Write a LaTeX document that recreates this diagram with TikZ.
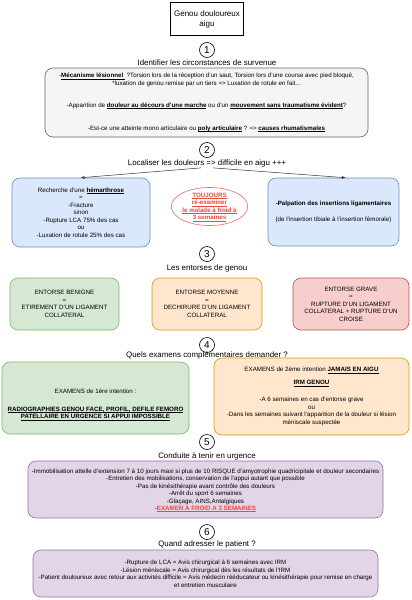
\documentclass[tikz,border=0pt]{standalone}
\usepackage{fontspec}
\setmainfont{Liberation Sans}
\usetikzlibrary{arrows.meta,shapes.geometric}
\definecolor{greyfill}{HTML}{F5F5F5}\definecolor{greydraw}{HTML}{666666}
\definecolor{bluefill}{HTML}{DAE8FC}\definecolor{bluedraw}{HTML}{6C8EBF}
\definecolor{greenfill}{HTML}{D5E8D4}\definecolor{greendraw}{HTML}{82B366}
\definecolor{orangefill}{HTML}{FFE6CC}\definecolor{orangedraw}{HTML}{D79B00}
\definecolor{redfill}{HTML}{F8CECC}\definecolor{reddraw}{HTML}{B85450}
\definecolor{purplefill}{HTML}{E1D5E7}\definecolor{purpledraw}{HTML}{9673A6}
\definecolor{alert}{HTML}{EA4A3A}\definecolor{alertdraw}{HTML}{EA6B66}
\newcommand{\myul}[1]{\setbox0=\hbox{#1}\rlap{\smash{\vrule height -0.8pt depth 1.25pt width \wd0}}\box0}
\newcommand{\bu}[1]{\textbf{\myul{#1}}}
\newcommand{\ru}[1]{\textcolor{alert}{\textbf{\myul{#1}}}}
\tikzset{
  box/.style={rounded corners=8pt, line width=0.6pt, inner sep=0pt},
  greybox/.style={box, fill=greyfill, draw=greydraw},
  bluebox/.style={box, fill=bluefill, draw=bluedraw},
  greenbox/.style={box, fill=greenfill, draw=greendraw},
  orangebox/.style={box, fill=orangefill, draw=orangedraw},
  redbox/.style={box, fill=redfill, draw=reddraw},
  purplebox/.style={box, fill=purplefill, draw=purpledraw},
  txt/.style={font=\fontsize{6.2}{7.5}\selectfont, align=center, inner sep=0pt},
  head/.style={font=\fontsize{7.9}{9}\selectfont, inner sep=0pt},
  num/.style={circle, draw, line width=0.6pt, minimum size=15pt, inner sep=0pt, font=\fontsize{10}{10}\selectfont},
  conn/.style={line width=0.5pt, draw=black!80, -{Stealth[length=4pt,width=3pt]}}
}
\begin{document}
\begin{tikzpicture}[x=1pt,y=-1pt]
\useasboundingbox[fill=white] (0,0) rectangle (412,600);

\node[draw, line width=0.6pt, fill=white, minimum width=70pt, minimum height=33pt, align=center,
  font=\fontsize{8}{10}\selectfont] (top) at (207,19) {Genou douloureux\\aigu};

% section 1
\node[num] (n1) at (207,50) {1};
\node[head] (h1) at (207,63) {Identifier les circonstances de survenue};
\node[greybox, minimum width=323pt, minimum height=69pt] (b1) at (206.5,102.5) {};
\node[txt] (t1a) at (206.5,80) {-\bu{Mécanisme lésionnel~} ?Torsion lors de la réception d'un saut, Torsion lors d'une course avec pied bloqué,\\ *luxation de genou remise par un tiers => Luxation de rotule en fait...};
\node[txt] (t1b) at (206.5,106) {-Apparition de \bu{douleur au décours d'une marche} ou d'un \bu{mouvement sans traumatisme évident}?};
\node[txt] (t1c) at (206.5,129) {-Est-ce une atteinte mono articulaire ou \bu{poly articulaire} ? => \bu{causes rhumatismales}};

% section 2
\node[num] (n2) at (207,150) {2};
\node[head] (h2) at (207,163) {Localiser les douleurs => difficile en aigu +++};
\node[bluebox, txt, minimum width=138pt, minimum height=69pt] (b2l) at (81,212.5)
  {Recherche d'une \bu{hémarthrose}\\=\\-Fracture\\sinon\\-Rupture LCA 75\% des cas\\ou\\-Luxation de rotule 25\% des cas};
\node[bluebox, txt, minimum width=131pt, minimum height=68pt] (b2r) at (333.5,212)
  {\textbf{-Palpation des insertions ligamentaires}\\[8.5pt](de l'insertion tibiale à l'insertion fémorale)};
\node[ellipse, draw=alertdraw, line width=0.6pt, fill=white, txt, minimum width=75pt, minimum height=37pt] (ell) at (209.5,206.5)
  {\ru{TOUJOURS}\\\ru{ré-examiner}\\\ru{le malade à froid à}\\\ru{3 semaines}};
\draw[conn] ([xshift=-6pt,yshift=-1pt]h2.south) -- (b2l.north);
\draw[conn] ([xshift=6pt,yshift=-1pt]h2.south) -- ([xshift=12pt]b2r.north);

% section 3
\node[num] (n3) at (207,254) {3};
\node[head] (h3) at (207,268) {Les entorses de genou};
\node[greenbox, txt, minimum width=109pt, minimum height=52pt] (b3a) at (64.5,304)
  {ENTORSE BENIGNE\\=\\ETIREMENT D'UN LIGAMENT\\COLLATERAL};
\node[orangebox, txt, minimum width=110pt, minimum height=52pt] (b3b) at (207,304)
  {ENTORSE MOYENNE\\=\\DECHIRURE D'UN LIGAMENT\\COLLATERAL};
\node[redbox, txt, minimum width=116pt, minimum height=52pt] (b3c) at (351,304)
  {ENTORSE GRAVE\\=\\RUPTURE D'UN LIGAMENT\\COLLATERAL + RUPTURE D'UN\\CROISE};

% section 4
\node[num] (n4) at (207,345) {4};
\node[head] (h4) at (207,355) {Quels examens complémentaires demander ?};
\node[greenbox, minimum width=187pt, minimum height=72pt] (b4a) at (95.5,398) {};
\node[txt] (t4a) at (95.5,391) {EXAMENS de 1ère intention :};
\node[txt] (t4b) at (95.5,413) {\bu{RADIOGRAPHIES GENOU FACE, PROFIL, DEFILE FEMORO}\\\bu{PATELLAIRE EN URGENCE SI APPUI IMPOSSIBLE}};
\node[orangebox, txt, minimum width=195pt, minimum height=77pt] (b4b) at (311.5,396.5)
  {EXAMENS de 2ème intention \bu{JAMAIS EN AIGU}\\[5.5pt]\bu{IRM GENOU}\\[9.5pt]-A 6 semaines en cas d'entorse grave\\ou\\-Dans les semaines suivant l'apparition de la douleur si lésion\\méniscale suspectée};

% section 5
\node[num] (n5) at (207,442) {5};
\node[head] (h5) at (207,456) {Conduite à tenir en urgence};
\node[purplebox, txt, minimum width=355pt, minimum height=57pt] (b5) at (205.5,489.5)
  {-Immobilisation attelle d'extension 7 à 10 jours maxi si plus de 10 RISQUE d'amyotrophie quadricipitale et douleur secondaires\\
   -Entretien des mobilisations, conservation de l'appui autant que possible\\
   -Pas de kinésithérapie avant contrôle des douleurs\\
   -Arrêt du sport 6 semaines\\
   -Glaçage, AINS,Antalgiques\\
   -\ru{EXAMEN A FROID A 3 SEMAINES}};

% section 6
\node[num] (n6) at (207,532) {6};
\node[head] (h6) at (207,544) {Quand adresser le patient ?};
\node[purplebox, txt, minimum width=345pt, minimum height=47pt] (b6) at (205.5,573.5)
  {-Rupture de LCA = Avis chirurgical à 6 semaines avec IRM\\
   -Lésion méniscale = Avis chirurgical dès les résultats de l'IRM\\
   -Patient douloureux avec retour aux activités difficile = Avis médecin rééducateur ou kinésithérapie pour remise en charge\\
   et entretien musculaire};
\end{tikzpicture}
\end{document}
